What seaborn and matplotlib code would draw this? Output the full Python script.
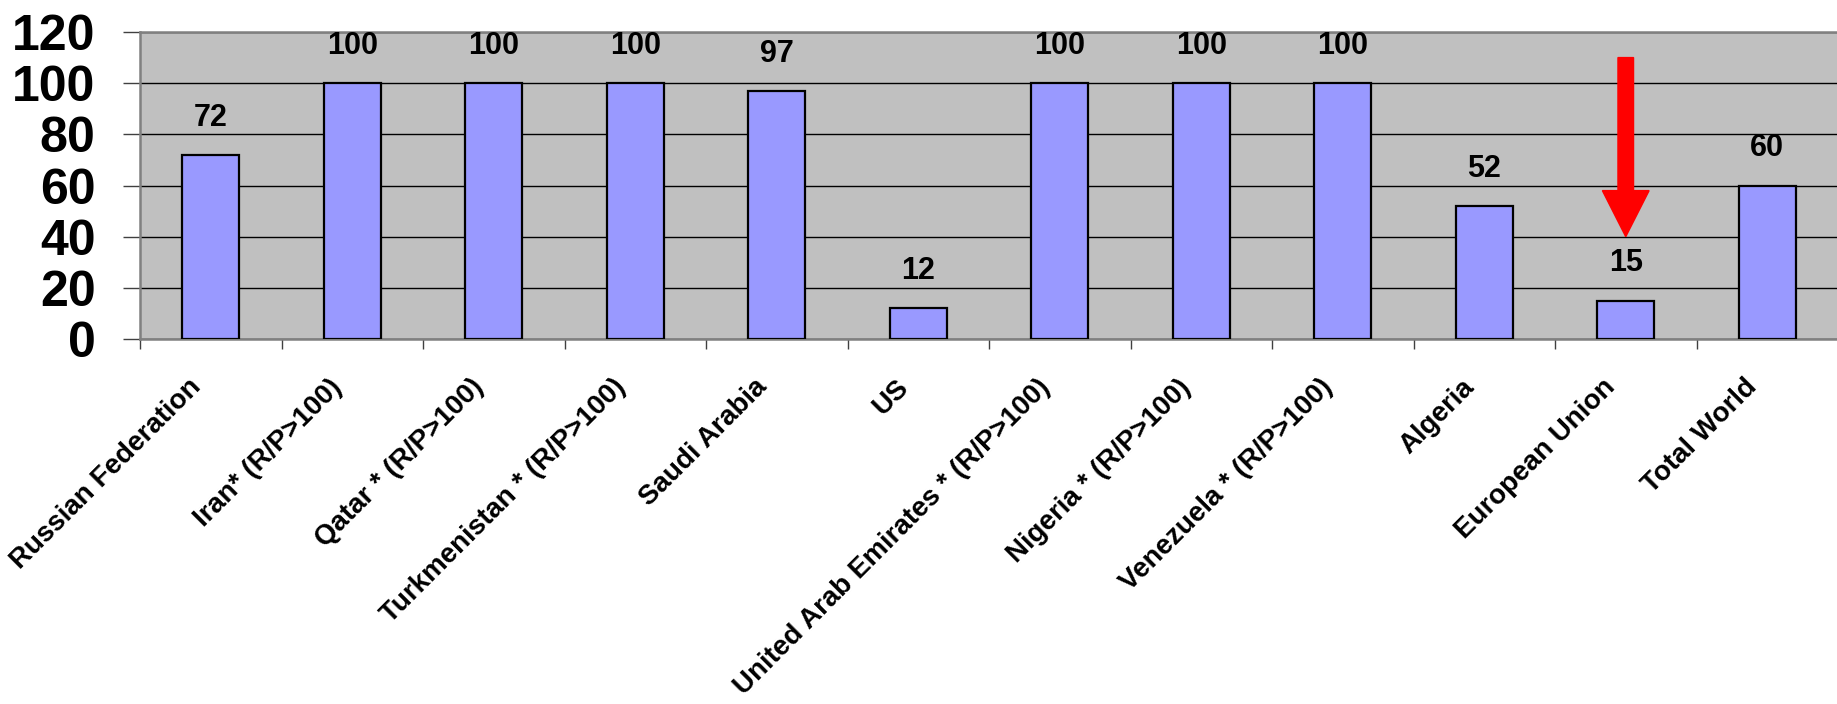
import numpy as np
import matplotlib.pyplot as plt
import matplotlib.transforms as mtransforms
import seaborn as sns

countries = ["Russian Federation", "Iran* (R/P>100)", "Qatar * (R/P>100)",
             "Turkmenistan * (R/P>100)", "Saudi Arabia", "US",
             "United Arab Emirates * (R/P>100)", "Nigeria * (R/P>100)",
             "Venezuela * (R/P>100)", "Algeria", "European Union", "Total World"]
rp_ratio = [72, 100, 100, 100, 97, 12, 100, 100, 100, 52, 15, 60]
value_labels = ["72", "100", "100", "100", "97", "12", "100", "100", "100", "52", "15", "60"]
y_ticks = [0, 20, 40, 60, 80, 100, 120]

# arrow pointing at the EU bar
arrow_idx = countries.index("European Union")
arrow_from = 110
arrow_to = 40

sns.set_style("white")
plt.rcParams['font.family'] = ['Liberation Sans', 'DejaVu Sans']
plt.rcParams['text.color'] = 'black'
plt.rcParams['xtick.color'] = 'black'
plt.rcParams['ytick.color'] = 'black'
plt.rcParams['axes.labelcolor'] = 'black'

fig = plt.figure(figsize=(18.37, 7.04), dpi=100)
ax = fig.add_axes([140 / 1837, 365 / 704, 12 * 141.5 / 1837, 307 / 704])
ax.set_facecolor("#C0C0C0")

sns.barplot(x=countries, y=rp_ratio, color="#9999FF", saturation=1,
            edgecolor="black", linewidth=1.6, width=0.4, ax=ax, zorder=3)

ax.bar_label(ax.containers[0], labels=value_labels, padding=16,
             fontsize=22, fontweight="bold", zorder=4)

ax.set_ylim(0, 120)
ax.set_xlim(-0.5, 11.5)
ax.set_yticks(y_ticks)
ax.set_yticklabels([str(t) for t in y_ticks], fontsize=36, fontweight="bold")
ax.tick_params(axis="y", length=12, width=1, color="#404040", pad=20, left=True)

ax.set_xticks(range(len(countries)))
ax.set_xticklabels(countries, rotation=45, ha="right", va="center",
                   rotation_mode="anchor", fontsize=20, fontweight="bold")
ax.tick_params(axis="x", which="major", length=0, pad=32)
shift = mtransforms.ScaledTranslation(-14 / 100, 0, fig.dpi_scale_trans)
for lbl in ax.get_xticklabels():
    lbl.set_transform(lbl.get_transform() + shift)
ax.set_xticks(np.arange(-0.5, 12, 1), minor=True)
ax.tick_params(axis="x", which="minor", length=7, width=1, color="#404040",
               bottom=True)

ax.yaxis.grid(True, color="black", linewidth=1, zorder=0)
ax.set_axisbelow(True)
for side in ["top", "left", "bottom"]:
    ax.spines[side].set_color("#808080")
    ax.spines[side].set_linewidth(1.8)
ax.spines["right"].set_visible(False)
ax.set_xlabel("")
ax.set_ylabel("")

ax.arrow(arrow_idx, arrow_from, 0, arrow_to - arrow_from, width=0.11,
         head_width=0.33, head_length=18, length_includes_head=True,
         color="red", zorder=5)

fig.savefig("out.png", dpi=100)
